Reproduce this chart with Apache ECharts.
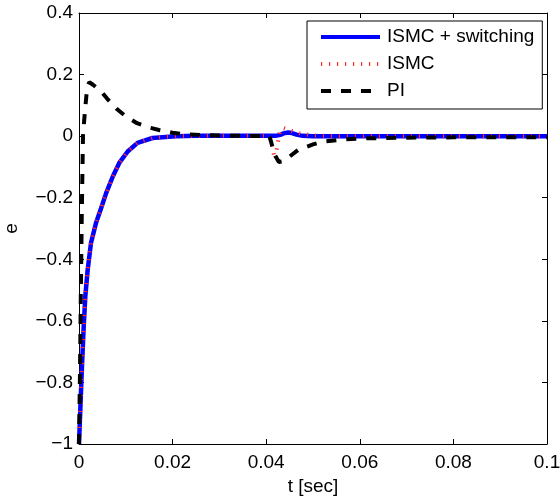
<!DOCTYPE html>
<html>
<head>
<meta charset="utf-8">
<script src="https://cdn.jsdelivr.net/npm/echarts@6/dist/echarts.min.js"></script>
<style>
html,body{margin:0;padding:0;background:#fff;}
#chart{width:560px;height:499px;}
</style>
</head>
<body>
<div id="chart"></div>
<script>
// ---- data ----
var seriesNames = ['ISMC + switching', 'ISMC', 'PI'];
var xTicks = [0, 0.02, 0.04, 0.06, 0.08, 0.1];
var yTicks = [-1, -0.8, -0.6, -0.4, -0.2, 0, 0.2, 0.4];

var tSwitch = [0, 0.0003, 0.0006, 0.001, 0.00135, 0.00185, 0.00256, 0.00363, 0.0047, 0.0058, 0.0072, 0.0086, 0.0104, 0.0125, 0.0157, 0.0207, 0.025, 0.03, 0.035, 0.04, 0.042, 0.043, 0.0437, 0.0447, 0.0455, 0.0465, 0.0478, 0.05, 0.06, 0.07, 0.08, 0.09, 0.1];
var eSwitch = [-1, -0.88, -0.76, -0.62, -0.52, -0.435, -0.347, -0.282, -0.235, -0.185, -0.132, -0.087, -0.05, -0.022, -0.006, 0, 0.001, 0.001, 0.001, 0.001, 0.001, 0.004, 0.009, 0.012, 0.01, 0.005, 0.001, 0, 0, 0, 0, 0, 0];

var tISMC = [0, 0.0003, 0.0006, 0.001, 0.00135, 0.00185, 0.00256, 0.00363, 0.0047, 0.0058, 0.0072, 0.0086, 0.0104, 0.0125, 0.0157, 0.0207, 0.025, 0.03, 0.035, 0.0405, 0.041, 0.0414, 0.0419, 0.0425, 0.043, 0.0437, 0.0454, 0.0472, 0.05, 0.055, 0.06, 0.07, 0.08, 0.09, 0.1];
var eISMC = [-1, -0.88, -0.76, -0.62, -0.52, -0.435, -0.347, -0.282, -0.235, -0.185, -0.132, -0.087, -0.05, -0.022, -0.006, 0, 0.001, 0.001, 0.001, 0.001, -0.012, -0.045, -0.075, -0.02, 0.02, 0.026, 0.017, 0.009, 0.002, 0, 0, 0, 0, 0, 0];

var tPI = [0, 0.0002, 0.0004, 0.0006, 0.00085, 0.0011, 0.0013, 0.0016, 0.0019, 0.0022, 0.0026, 0.003, 0.004, 0.0048, 0.006, 0.0081, 0.01, 0.0124, 0.015, 0.0171, 0.02, 0.022, 0.026, 0.03, 0.035, 0.0407, 0.0418, 0.0427, 0.0435, 0.0447, 0.0468, 0.05, 0.052, 0.057, 0.061, 0.07, 0.08, 0.09, 0.1];
var ePI = [-1, -0.78, -0.5, -0.25, 0, 0.05, 0.085, 0.135, 0.165, 0.175, 0.172, 0.167, 0.155, 0.144, 0.122, 0.088, 0.064, 0.042, 0.028, 0.02, 0.011, 0.007, 0.004, 0.002, 0.001, 0, -0.06, -0.084, -0.082, -0.07, -0.045, -0.027, -0.018, -0.01, -0.007, -0.005, -0.004, -0.004, -0.004];

function pairs(t, e) { return t.map(function (v, i) { return [v, e[i]]; }); }

var FONT = '"Liberation Sans", Arial, Helvetica, sans-serif';
var FS = 19;

function fmt(v) {
  var r = Math.round(v * 1000) / 1000;
  var s = String(r);
  return s.replace('-', '\u2212');
}

var chart = echarts.init(document.getElementById('chart'), null, { renderer: 'canvas' });

var axisLineStyle = { color: '#000', width: 1 };
var blueStyle = { color: '#0000ff', width: 4.5, type: 'solid' };
var redStyle = { color: '#ff2a2a', width: 4, type: [1.2, 6.8], cap: 'butt' };
var blackStyle = { color: '#000', width: 4, type: [10, 10], cap: 'butt' };

var option = {
  backgroundColor: '#fff',
  animation: false,
  textStyle: { fontFamily: FONT },
  grid: { left: 79, top: 13, right: 13, bottom: 55, containLabel: false, outerBoundsMode: 'none' },
  legend: {
    data: [
      { name: seriesNames[0], lineStyle: { width: 4, color: '#0000ff', type: 'solid' } },
      { name: seriesNames[1], lineStyle: { width: 4, color: '#ff2a2a', type: [1.2, 6.8], cap: 'butt' } },
      { name: seriesNames[2], lineStyle: { width: 4, color: '#000', type: [10, 10], cap: 'butt' } }
    ],
    orient: 'vertical',
    left: 307,
    top: 21,
    padding: [6, 8, 8, 12],
    itemWidth: 59,
    itemHeight: 14,
    itemGap: 7,
    itemStyle: { opacity: 0, borderWidth: 0 },
    backgroundColor: '#fff',
    borderColor: '#000',
    borderWidth: 1,
    borderRadius: 0,
    textStyle: { fontFamily: FONT, fontSize: FS, color: '#000', lineHeight: 20, padding: [0, 0, 0, 2] }
  },
  xAxis: [{
    type: 'value', min: xTicks[0], max: xTicks[xTicks.length - 1], interval: 0.02,
    name: 't [sec]', nameLocation: 'middle', nameGap: 33,
    nameTextStyle: { fontFamily: FONT, fontSize: FS, color: '#000' },
    axisLine: { show: true, onZero: false, lineStyle: axisLineStyle },
    axisTick: { show: true, inside: true, length: 5, lineStyle: axisLineStyle },
    axisLabel: { fontFamily: FONT, fontSize: FS, color: '#000', margin: 9, formatter: fmt },
    splitLine: { show: false }
  }, {
    type: 'value', position: 'top', min: xTicks[0], max: xTicks[xTicks.length - 1], interval: 0.02,
    axisLine: { show: true, onZero: false, lineStyle: axisLineStyle },
    axisTick: { show: true, inside: true, length: 5, lineStyle: axisLineStyle },
    axisLabel: { show: false },
    splitLine: { show: false }
  }],
  yAxis: [{
    type: 'value', min: yTicks[0], max: yTicks[yTicks.length - 1], interval: 0.2,
    name: 'e', nameLocation: 'middle', nameGap: 58, nameRotate: 90,
    nameTextStyle: { fontFamily: FONT, fontSize: FS, color: '#000' },
    axisLine: { show: true, onZero: false, lineStyle: axisLineStyle },
    axisTick: { show: true, inside: true, length: 5, lineStyle: axisLineStyle },
    axisLabel: { fontFamily: FONT, fontSize: FS, color: '#000', margin: 6, formatter: fmt },
    splitLine: { show: false }
  }, {
    type: 'value', position: 'right', min: yTicks[0], max: yTicks[yTicks.length - 1], interval: 0.2,
    axisLine: { show: true, onZero: false, lineStyle: axisLineStyle },
    axisTick: { show: true, inside: true, length: 5, lineStyle: axisLineStyle },
    axisLabel: { show: false },
    splitLine: { show: false }
  }],
  series: [{
    name: seriesNames[0], type: 'line', data: pairs(tSwitch, eSwitch),
    symbol: 'none', smooth: false, z: 2,
    color: '#0000ff',
    lineStyle: blueStyle
  }, {
    name: seriesNames[1], type: 'line', data: pairs(tISMC, eISMC),
    symbol: 'none', smooth: false, z: 3,
    color: '#ff0000',
    lineStyle: redStyle
  }, {
    name: seriesNames[2], type: 'line', data: pairs(tPI, ePI),
    symbol: 'none', smooth: false, z: 4,
    color: '#000',
    lineStyle: blackStyle
  }]
};
chart.setOption(option);
</script>
</body>
</html>
